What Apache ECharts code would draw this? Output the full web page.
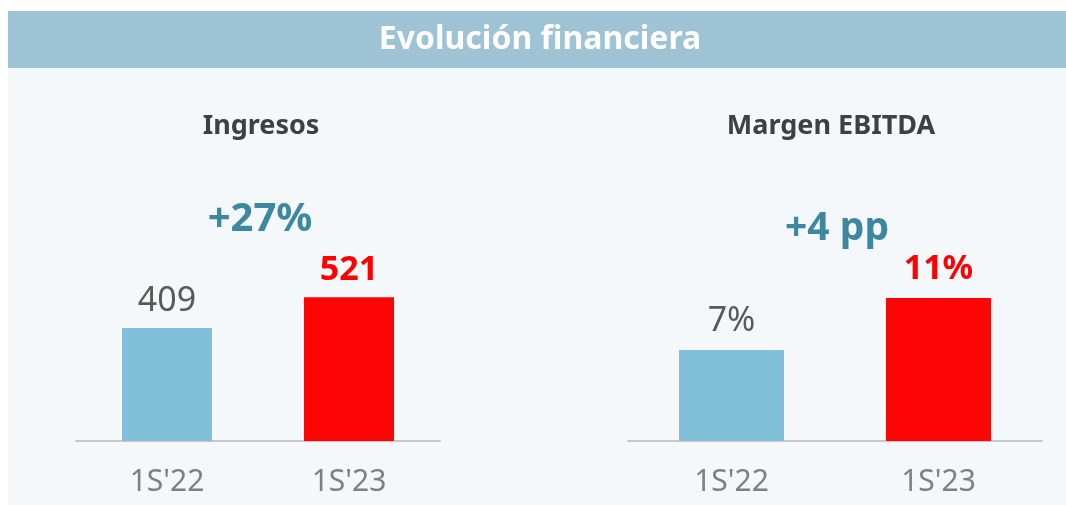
<!DOCTYPE html>
<html>
<head>
<meta charset="utf-8">
<script src="https://cdn.jsdelivr.net/npm/echarts@6/dist/echarts.min.js"></script>
<style>
  html, body { margin: 0; padding: 0; background: #fff; }
  #chart { width: 1066px; height: 505px; }
</style>
</head>
<body>
<div id="chart"></div>
<script>
var categories = ["1S'22", "1S'23"]
var ingresos = [409, 521]
var margen = [7, 11]
var titles = ['Ingresos', 'Margen EBITDA']
var deltas = ['+27%', '+4 pp']
var header = 'Evolución financiera'

var font = 'Noto Sans'
var colors = ['#82BFD8', '#FC0505']
var labelColors = ['#595959', '#FF0000']

function barData(values) {
    return values.map(function (v, i) {
        return {
            value: v,
            itemStyle: { color: colors[i] },
            label: {
                color: labelColors[i],
                fontWeight: i == 1 ? 'bold' : 'normal'
            }
        }
    })
}

var echart = echarts.init(document.getElementById('chart'))

var option = {
    backgroundColor: '#ffffff',
    animation: false,
    graphic: [
        { type: 'rect', left: 8, top: 68, shape: { width: 1058, height: 437 }, style: { fill: '#F4F8FB' }, z: -10 },
        { type: 'rect', left: 8, top: 11, shape: { width: 1058, height: 57 }, style: { fill: '#9DC3D4' }, z: -10 },
        { type: 'text', x: 540, y: 40, style: { text: header, fill: '#ffffff', font: 'bold 32px "Noto Sans"', textAlign: 'center', textVerticalAlign: 'middle' } },
        { type: 'text', x: 261, y: 126, style: { text: titles[0], fill: '#404040', font: 'bold 27px "Noto Sans"', textAlign: 'center', textVerticalAlign: 'middle' } },
        { type: 'text', x: 831, y: 126, style: { text: titles[1], fill: '#404040', font: 'bold 27px "Noto Sans"', textAlign: 'center', textVerticalAlign: 'middle' } },
        { type: 'text', x: 260, y: 220, style: { text: deltas[0], fill: '#3D87A0', font: 'bold 40px "Noto Sans"', textAlign: 'center', textVerticalAlign: 'middle' } },
        { type: 'text', x: 837, y: 229, style: { text: deltas[1], fill: '#3D87A0', font: 'bold 39px "Noto Sans"', textAlign: 'center', textVerticalAlign: 'middle' } }
    ],
    grid: [
        { left: 76, width: 364, top: 165, bottom: 64 },
        { left: 628, width: 414, top: 181, bottom: 64 }
    ],
    xAxis: [0, 1].map(function (i) {
        return {
            type: 'category',
            gridIndex: i,
            data: categories,
            axisLine: { lineStyle: { color: '#C8C8CA', width: 2 } },
            axisTick: { show: false },
            axisLabel: {
                color: '#808080',
                fontFamily: font,
                fontSize: 30,
                margin: 26
            }
        }
    }),
    yAxis: [
        { type: 'value', gridIndex: 0, min: 0, max: 1000, show: false },
        { type: 'value', gridIndex: 1, min: 0, max: 20, show: false }
    ],
    series: [
        {
            type: 'bar',
            xAxisIndex: 0,
            yAxisIndex: 0,
            barWidth: 90,
            label: { show: true, position: 'top', distance: 10, fontFamily: font, fontSize: 34 },
            data: barData(ingresos)
        },
        {
            type: 'bar',
            xAxisIndex: 1,
            yAxisIndex: 1,
            barWidth: 105,
            label: { show: true, position: 'top', distance: 12, fontFamily: font, fontSize: 34, formatter: '{c}%' },
            data: barData(margen)
        }
    ]
}
echart.setOption(option)
</script>
</body>
</html>
